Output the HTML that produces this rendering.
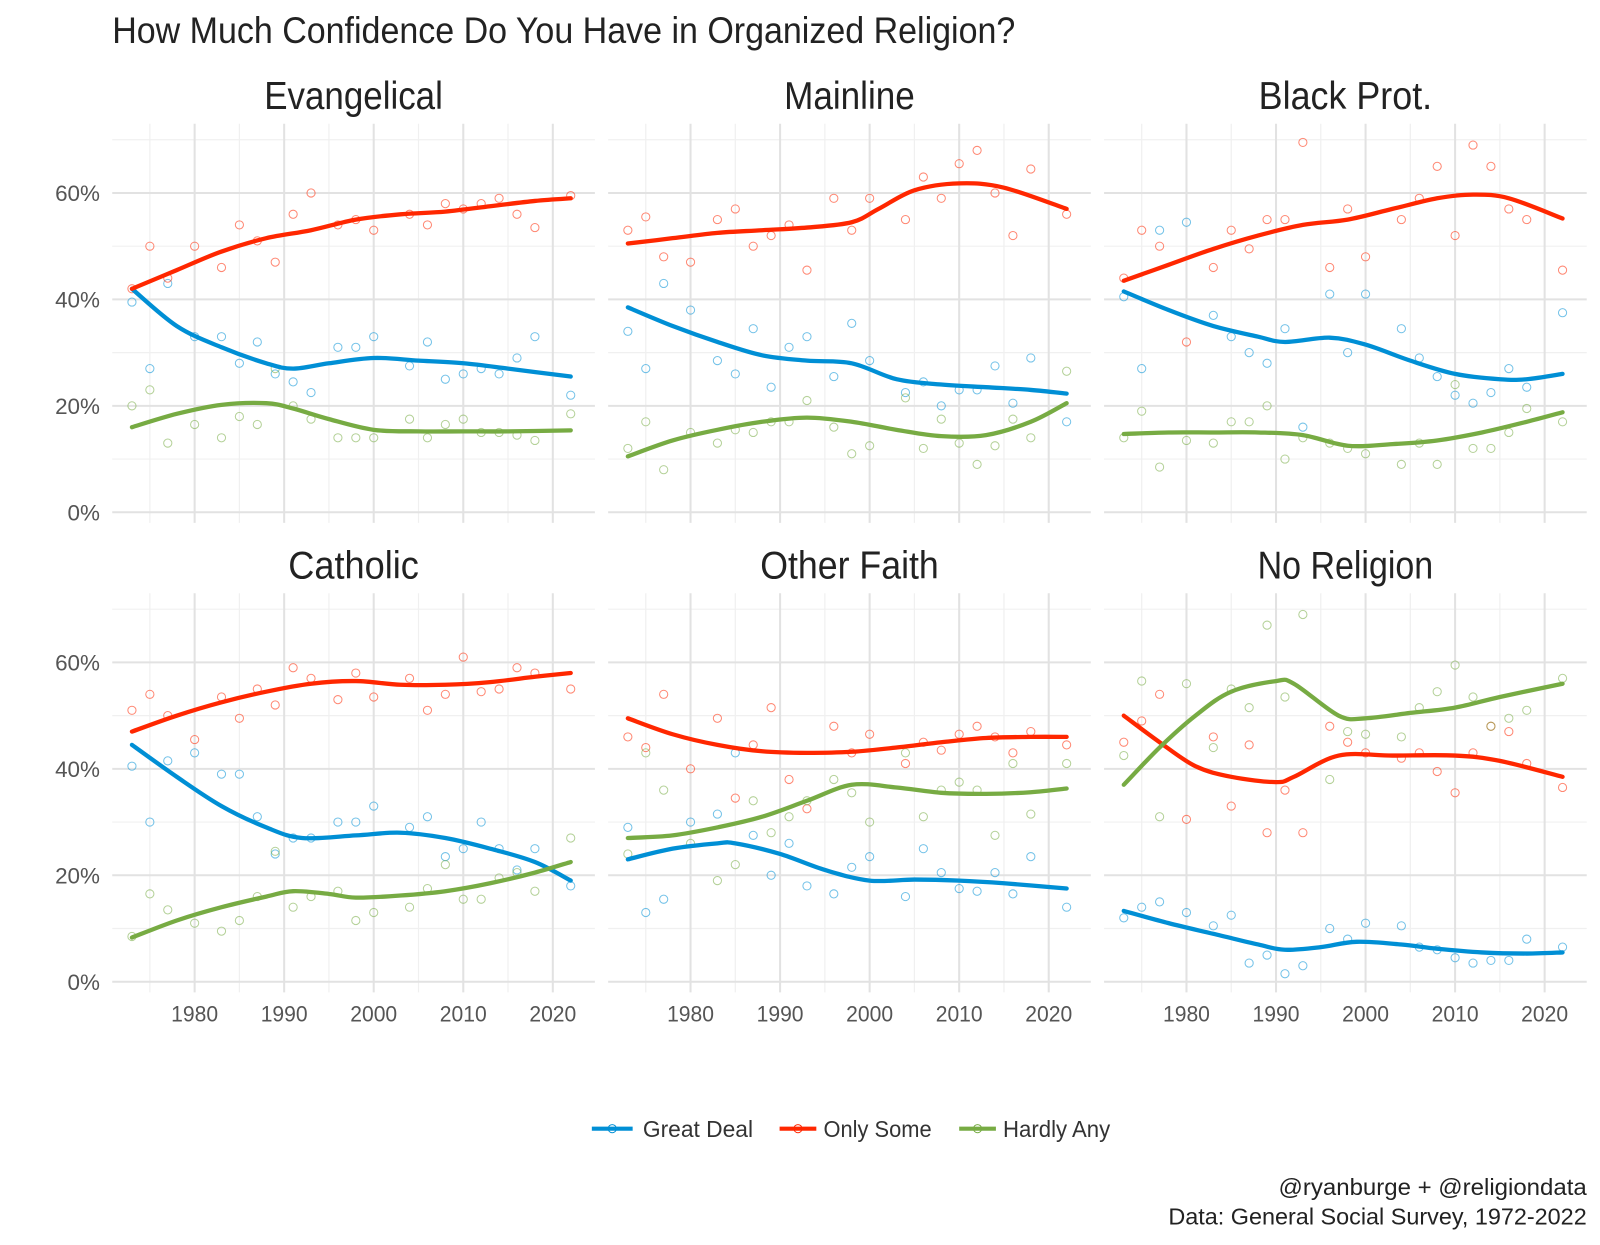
<!DOCTYPE html>
<html><head><meta charset="utf-8">
<style>
body{margin:0;background:#fff;}
svg{display:block;font-family:"Liberation Sans Narrow","Liberation Sans",sans-serif;}
</style></head>
<body>
<svg id="chart" width="1600" height="1245" viewBox="0 0 1568 1220" preserveAspectRatio="none" xmlns="http://www.w3.org/2000/svg">
<text x="110" y="42" font-size="36" fill="#222" textLength="885" lengthAdjust="spacingAndGlyphs">How Much Confidence Do You Have in Organized Religion?</text>
<g id="panels"></g>
<g>
<line x1="580" y1="1106" x2="620" y2="1106" stroke="#008fd5" stroke-width="4"/>
<circle cx="600" cy="1106" r="4" fill="none" stroke="#008fd5"/>
<text x="630" y="1114" font-size="23" fill="#333" textLength="108" lengthAdjust="spacingAndGlyphs">Great Deal</text>
<line x1="764" y1="1106" x2="800" y2="1106" stroke="#ff2700" stroke-width="4"/>
<circle cx="782" cy="1106" r="4" fill="none" stroke="#ff2700"/>
<text x="807" y="1114" font-size="23" fill="#333" textLength="106" lengthAdjust="spacingAndGlyphs">Only Some</text>
<line x1="940" y1="1106" x2="976" y2="1106" stroke="#77ab43" stroke-width="4"/>
<circle cx="958" cy="1106" r="4" fill="none" stroke="#77ab43"/>
<text x="983" y="1114" font-size="23" fill="#333" textLength="105" lengthAdjust="spacingAndGlyphs">Hardly Any</text>
</g>
<text x="1555" y="1171" font-size="23" fill="#222" text-anchor="end" textLength="302" lengthAdjust="spacingAndGlyphs">@ryanburge + @religiondata</text>
<text x="1555" y="1200" font-size="23" fill="#222" text-anchor="end" textLength="410" lengthAdjust="spacingAndGlyphs">Data: General Social Survey, 1972-2022</text>
</svg>
<script>
const panelNames = ["Evangelical","Mainline","Black Prot.","Catholic","Other Faith","No Religion"];
const yTicks = [0,20,40,60];
const yTickLabels = ["0%","20%","40%","60%"];
const xTicks = [1980,1990,2000,2010,2020];
const scatterYears = [1973,1975,1977,1980,1983,1985,1987,1989,1991,1993,1996,1998,2000,2004,2006,2008,2010,2012,2014,2016,2018,2022];

const greatPts = [
 [39.5,27,43,33,33,28,32,26,24.5,22.5,31,31,33,27.5,32,25,26,27,26,29,33,22],
 [34,27,43,38,28.5,26,34.5,23.5,31,33,25.5,35.5,28.5,22.5,24.5,20,23,23,27.5,20.5,29,17],
 [40.5,27,53,54.5,37,33,30,28,34.5,16,41,30,41,34.5,29,25.5,22,20.5,22.5,27,23.5,37.5],
 [40.5,30,41.5,43,39,39,31,24,27,27,30,30,33,29,31,23.5,25,30,25,21,25,18],
 [29,13,15.5,30,31.5,43,27.5,20,26,18,16.5,21.5,23.5,16,25,20.5,17.5,17,20.5,16.5,23.5,14],
 [12,14,15,13,10.5,12.5,3.5,5,1.5,3,10,8,11,10.5,6.5,6,4.5,3.5,4,4,8,6.5]];
const somePts = [
 [42,50,44,50,46,54,51,47,56,60,54,55,53,56,54,58,57,58,59,56,53.5,59.5],
 [53,55.5,48,47,55,57,50,52,54,45.5,59,53,59,55,63,59,65.5,68,60,52,64.5,56],
 [44,53,50,32,46,53,49.5,55,55,69.5,46,57,48,55,59,65,52,69,65,57,55,45.5],
 [51,54,50,45.5,53.5,49.5,55,52,59,57,53,58,53.5,57,51,54,61,54.5,55,59,58,55],
 [46,44,54,40,49.5,34.5,44.5,51.5,38,32.5,48,43,46.5,41,45,43.5,46.5,48,46,43,47,44.5],
 [45,49,54,30.5,46,33,44.5,28,36,28,48,45,43,42,43,39.5,35.5,43,48,47,41,36.5]];
const hardlyPts = [
 [20,23,13,16.5,14,18,16.5,27,20,17.5,14,14,14,17.5,14,16.5,17.5,15,15,14.5,13.5,18.5],
 [12,17,8,15,13,15.5,15,17,17,21,16,11,12.5,21.5,12,17.5,13,9,12.5,17.5,14,26.5],
 [14,19,8.5,13.5,13,17,17,20,10,14,13,12,11,9,13,9,24,12,12,15,19.5,17],
 [8.5,16.5,13.5,11,9.5,11.5,16,24.5,14,16,17,11.5,13,14,17.5,22,15.5,15.5,19.5,20.5,17,27],
 [24,43,36,26,19,22,34,28,31,34,38,35.5,30,43,31,36,37.5,36,27.5,41,31.5,41],
 [42.5,56.5,31,56,44,55,51.5,67,53.5,69,38,47,46.5,46,51.5,54.5,59.5,53.5,48,49.5,51,57]];

const greatTrendYears = [
 [1973,1978,1983,1988,1991,1995,2000,2005,2010,2015,2022],
 [1973,1978,1983,1988,1993,1998,2003,2008,2013,2018,2022],
 [1973,1978,1983,1988,1991,1996,2000,2005,2010,2015,2018,2022],
 [1973,1978,1983,1988,1992,1998,2003,2008,2013,2018,2022],
 [1973,1978,1983,1985,1990,1995,2000,2005,2010,2015,2022],
 [1973,1978,1983,1988,1991,1995,1999,2004,2008,2013,2018,2022]];
const greatTrend = [
 [42,35,31,28,27,28,29,28.5,28,27,25.5],
 [38.5,35,32,29.5,28.5,28,25,24,23.5,23,22.3],
 [41.5,38,35,33,32,32.8,31.5,28.5,26,25,25,26],
 [44.5,38.5,33,29,27,27.5,28,27,25,22.5,19],
 [23,25,26,26,24,21,19,19.2,19,18.5,17.5],
 [13.3,11,9,7,6,6.5,7.5,7,6.2,5.5,5.3,5.5]];
const someTrendYears = [
 [1973,1978,1983,1988,1993,1998,2003,2008,2013,2018,2022],
 [1973,1978,1983,1988,1993,1998,2001,2005,2010,2015,2022],
 [1973,1978,1983,1988,1993,1998,2003,2008,2012,2016,2022],
 [1973,1978,1983,1988,1993,1998,2003,2008,2013,2018,2022],
 [1973,1978,1983,1988,1993,1998,2003,2008,2013,2018,2022],
 [1973,1977,1981,1985,1990,1992,1997,2003,2010,2015,2022]];
const someTrend = [
 [42,45.5,49,51.5,53,55,56,56.5,57.5,58.5,59],
 [50.5,51.5,52.5,53,53.5,54.5,57,60.5,61.8,61,57],
 [43.5,46.5,49.5,52,54,55,57,59,59.7,59,55.2],
 [47,50,52.5,54.5,56,56.5,55.8,55.8,56.3,57.3,58],
 [49.5,46.5,44.5,43.3,43,43.2,44,45,45.8,46,46],
 [50,45,40.5,38.5,37.5,38.5,42.5,42.5,42.5,41.5,38.5]];
const hardlyTrendYears = [
 [1973,1978,1983,1988,1991,1995,2000,2005,2010,2015,2022],
 [1973,1978,1983,1988,1993,1998,2003,2008,2013,2018,2022],
 [1973,1978,1983,1988,1993,1998,2003,2008,2013,2018,2022],
 [1973,1978,1983,1988,1991,1995,1998,2003,2008,2013,2018,2022],
 [1973,1978,1983,1988,1993,1998,2003,2008,2013,2018,2022],
 [1973,1977,1981,1985,1990,1992,1997,2000,2005,2010,2015,2022]];
const hardlyTrend = [
 [16,18.5,20.2,20.5,19.5,17.5,15.5,15.2,15.2,15.2,15.4],
 [10.5,13.5,15.5,17,17.8,17,15.5,14.3,14.5,17,20.5],
 [14.7,15,15,15,14.5,12.5,12.8,13.5,15,17,18.8],
 [8.3,11.5,14,16,17,16.5,15.8,16.2,17,18.5,20.5,22.5],
 [27,27.5,29,31,34,37,36.5,35.5,35.3,35.6,36.3],
 [37,44,50,54.5,56.5,56,50,49.5,50.5,51.5,53.5,56]];

const NS = "http://www.w3.org/2000/svg";
const colors = ["#008fd5","#ff2700","#77ab43"];
const panelX0 = [110,596,1082];
const panelW = 473;
const rowZero = [502,962];
const pxPerPct = 5.215;
const xMin = 1970.8, xMax = 2024.7;

function mk(tag, attrs, parent){
  const e = document.createElementNS(NS, tag);
  for (const k in attrs) e.setAttribute(k, attrs[k]);
  parent.appendChild(e);
  return e;
}
function smoothPath(pts){
  let d = "M" + pts[0][0].toFixed(1) + "," + pts[0][1].toFixed(1);
  for (let i=0;i<pts.length-1;i++){
    const p0 = pts[i-1]||pts[i], p1=pts[i], p2=pts[i+1], p3=pts[i+2]||pts[i+1];
    const c1x = p1[0]+(p2[0]-p0[0])/6, c1y = p1[1]+(p2[1]-p0[1])/6;
    const c2x = p2[0]-(p3[0]-p1[0])/6, c2y = p2[1]-(p3[1]-p1[1])/6;
    d += " C"+c1x.toFixed(1)+","+c1y.toFixed(1)+" "+c2x.toFixed(1)+","+c2y.toFixed(1)+" "+p2[0].toFixed(1)+","+p2[1].toFixed(1);
  }
  return d;
}
const titleLens = [175,128,170,128,175,172];
const root = document.getElementById("panels");
panelNames.forEach((name, pi) => {
  const col = pi % 3, row = Math.floor(pi/3);
  const x0 = panelX0[col], y0 = rowZero[row];
  const xs = yr => x0 + (yr - xMin) / (xMax - xMin) * panelW;
  const ys = v => y0 - v * pxPerPct;
  const g = mk("g", {}, root);
  
  
  const top = ys(73), bottom = ys(-2);
  [10,30,50,70].forEach(v => { mk("line",{x1:x0,x2:x0+panelW,y1:ys(v),y2:ys(v),stroke:"#f0f0f0","stroke-width":1.2},g); });
  [1975,1985,1995,2005,2015].forEach(v => { mk("line",{x1:xs(v),x2:xs(v),y1:top,y2:bottom,stroke:"#f0f0f0","stroke-width":1.2},g); });
  yTicks.forEach(v => { mk("line",{x1:x0,x2:x0+panelW,y1:ys(v),y2:ys(v),stroke:"#e2e2e2","stroke-width":2},g); });
  xTicks.forEach(v => { mk("line",{x1:xs(v),x2:xs(v),y1:top,y2:bottom,stroke:"#e2e2e2","stroke-width":2},g); });
  const t = mk("text",{x:x0+panelW/2,y:row===0?107:567,"font-size":38,"text-anchor":"middle",fill:"#222",textLength:titleLens[pi],lengthAdjust:"spacingAndGlyphs"},g);
  t.textContent = name;
  
  
  if (col===0){
    yTicks.forEach((v,i) => {
      const l = mk("text",{x:x0-12,y:ys(v)+8,"font-size":22,"text-anchor":"end",fill:"#555"},g);
      l.textContent = yTickLabels[i];
      
      
    });
  }
  if (row===1){
    xTicks.forEach(v => {
      const l = mk("text",{x:xs(v),y:1001,"font-size":22,"text-anchor":"middle",fill:"#555",textLength:46,lengthAdjust:"spacingAndGlyphs"},g);
      l.textContent = v;
      
      
    });
  }
  const ptsSets = [greatPts[pi], somePts[pi], hardlyPts[pi]];
  const trY = [greatTrendYears[pi], someTrendYears[pi], hardlyTrendYears[pi]];
  const trV = [greatTrend[pi], someTrend[pi], hardlyTrend[pi]];
  const sNames = ["great-deal","only-some","hardly-any"];
  ptsSets.forEach((arr, si) => {
    arr.forEach((v, k) => {
      const c = mk("circle",{cx:xs(scatterYears[k]),cy:ys(v),r:4,fill:"none",stroke:colors[si],"stroke-opacity":0.55,"stroke-width":1},g);
      
      
    });
  });
  trV.forEach((vals, si) => {
    const pts = vals.map((v,k) => [xs(trY[si][k]), ys(v)]);
    const p = mk("path",{d:smoothPath(pts),fill:"none",stroke:colors[si],"stroke-width":4.2,"stroke-linecap":"round"},g);
    
    
  });
});
</script>
</body></html>
